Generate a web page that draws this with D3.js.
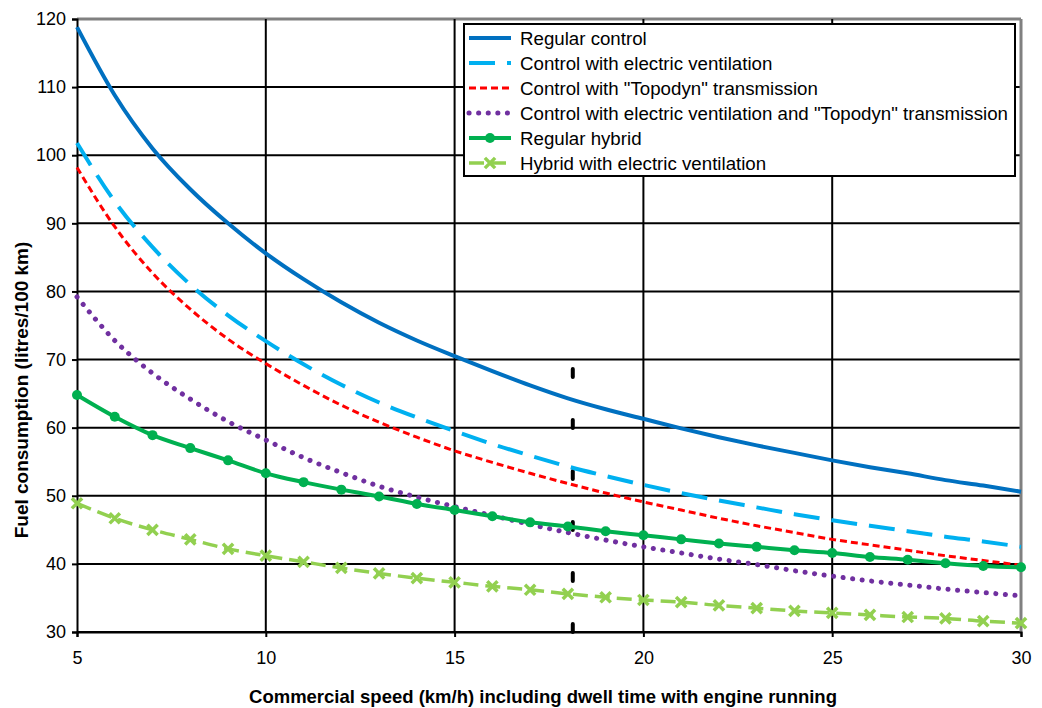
<!DOCTYPE html>
<html lang="en">
    <head>
        <meta charset="UTF-8" />
        <title>Fuel consumption vs commercial speed</title>
        <script src="https://cdn.jsdelivr.net/npm/d3@7/dist/d3.min.js"></script>
        <style>
            body {
                margin: 0;
                padding: 0;
                background: #fff;
            }
            text {
                font-family: 'Liberation Sans', Arial, sans-serif;
                fill: #000;
            }
            .tick text {
                font-size: 18px;
            }
            .title {
                font-size: 18.5px;
                font-weight: bold;
            }
            .ytitle {
                font-size: 19px;
            }
            .legend text {
                font-size: 18.7px;
            }
        </style>
    </head>
    <body>
        <svg width="1042" height="708"></svg>
        <script>
            // speeds (km/h)
            var speeds = d3.range(5, 31);

            // fuel consumption (litres/100 km), one value per speed
            var regularControl = [118.8, 108.8, 101, 95, 90, 85.6, 81.8, 78.4, 75.4, 72.8, 70.5, 68.3, 66.2, 64.3, 62.7,
                61.3, 59.9, 58.6, 57.4, 56.3, 55.2, 54.2, 53.3, 52.3, 51.5, 50.6];
            var controlEV = [101.8, 93.2, 86.5, 81, 76.5, 72.7, 69.3, 66.3, 63.7, 61.5, 59.5, 57.6, 55.9, 54.3, 52.9,
                51.6, 50.4, 49.3, 48.3, 47.3, 46.4, 45.6, 44.8, 44, 43.3, 42.5];
            var controlTopodyn = [98.2, 89.5, 82.7, 77.4, 73, 69.4, 66.2, 63.3, 60.8, 58.6, 56.6, 54.9, 53.3, 51.8, 50.4,
                49.1, 47.9, 46.7, 45.6, 44.6, 43.6, 42.8, 42, 41.2, 40.5, 39.8];
            var controlEVTopodyn = [79.2, 72.8, 68, 64.2, 60.9, 58.2, 55.6, 53.4, 51.4, 49.8, 48.4, 47.1, 45.8, 44.6, 43.5,
                42.5, 41.6, 40.7, 39.9, 39, 38.2, 37.5, 36.9, 36.3, 35.8, 35.3];
            var regularHybrid = [64.8, 61.6, 58.9, 57, 55.2, 53.3, 52, 50.9, 49.9, 48.8, 47.9, 47, 46.1, 45.5, 44.8,
                44.2, 43.6, 43, 42.5, 42, 41.6, 41, 40.6, 40.1, 39.7, 39.5];
            var hybridEV = [48.9, 46.7, 45, 43.6, 42.2, 41.2, 40.3, 39.4, 38.6, 37.9, 37.3, 36.7, 36.2, 35.6, 35.1,
                34.7, 34.4, 33.9, 33.5, 33.1, 32.8, 32.5, 32.2, 32, 31.6, 31.3];

            var seriesNames = [
                'Regular control',
                'Control with electric ventilation',
                'Control with "Topodyn" transmission',
                'Control with electric ventilation and "Topodyn" transmission',
                'Regular hybrid',
                'Hybrid with electric ventilation'
            ];
            var seriesValues = [regularControl, controlEV, controlTopodyn, controlEVTopodyn, regularHybrid, hybridEV];

            // dashed vertical marker
            var markerSpeed = 18.13;
            var markerRange = [30, 69.2];

            var xTicks = [5, 10, 15, 20, 25, 30];
            var yTicks = [30, 40, 50, 60, 70, 80, 90, 100, 110, 120];

            var styles = [
                { color: '#0070C0', width: 4, dash: null },
                { color: '#00B0F0', width: 4, dash: '26,12' },
                { color: '#FF0000', width: 3, dash: '7,4' },
                { color: '#7030A0', width: 5, dash: '0.1,9.5', cap: 'round' },
                { color: '#00B050', width: 4, dash: null, marker: 'circle' },
                { color: '#92D050', width: 3.5, dash: '15,7', marker: 'x' }
            ];

            var svg = d3.select('svg');
            var x = d3.scaleLinear().domain([5, 30]).range([77, 1021]);
            var y = d3.scaleLinear().domain([30, 120]).range([632, 19]);

            // grid
            var grid = svg.append('g');
            grid.selectAll('line.h')
                .data(yTicks)
                .enter()
                .append('line')
                .attr('x1', x(5))
                .attr('x2', x(30))
                .attr('y1', d => y(d))
                .attr('y2', d => y(d))
                .attr('stroke', d => (d === 120 ? '#808080' : '#000'))
                .attr('stroke-width', d => (d === 120 ? 3 : 2));
            grid.selectAll('line.v')
                .data(xTicks.slice(1))
                .enter()
                .append('line')
                .attr('x1', d => x(d))
                .attr('x2', d => x(d))
                .attr('y1', y(120))
                .attr('y2', y(30))
                .attr('stroke', d => (d === 30 ? '#808080' : '#000'))
                .attr('stroke-width', d => (d === 30 ? 3 : 2));

            // axes
            var yAxis = svg.append('g')
                .attr('transform', 'translate(' + x(5) + ',0)')
                .call(d3.axisLeft(y).tickValues(yTicks).tickSize(5).tickPadding(6));
            var xAxis = svg.append('g')
                .attr('transform', 'translate(0,' + y(30) + ')')
                .call(d3.axisBottom(x).tickValues(xTicks).tickSize(5).tickPadding(14));
            [xAxis, yAxis].forEach(function(a) {
                a.select('.domain').attr('stroke', '#000').attr('stroke-width', 2);
                a.selectAll('.tick line').attr('stroke', '#000').attr('stroke-width', 2);
                a.attr('font-family', null).attr('font-size', null);
            });

            // black dashed marker line
            svg.append('line')
                .attr('x1', x(markerSpeed))
                .attr('x2', x(markerSpeed))
                .attr('y1', y(markerRange[0]))
                .attr('y2', y(markerRange[1]))
                .attr('stroke', '#000')
                .attr('stroke-width', 4)
                .attr('stroke-linecap', 'round')
                .attr('stroke-dasharray', '8,43');

            var line = d3.line()
                .x((d, i) => x(speeds[i]))
                .y(d => y(d))
                .curve(d3.curveMonotoneX);

            var xSym = d3.symbol().type(d3.symbolX).size(70);

            seriesValues.forEach(function(vals, k) {
                var s = styles[k];
                svg.append('path')
                    .datum(vals)
                    .attr('d', line)
                    .attr('fill', 'none')
                    .attr('stroke', s.color)
                    .attr('stroke-width', s.width)
                    .attr('stroke-dasharray', s.dash)
                    .attr('stroke-linecap', s.cap || 'butt');
                if (s.marker === 'circle') {
                    svg.append('g').selectAll('circle')
                        .data(vals)
                        .enter()
                        .append('circle')
                        .attr('cx', (d, i) => x(speeds[i]))
                        .attr('cy', d => y(d))
                        .attr('r', 5)
                        .attr('fill', s.color);
                } else if (s.marker === 'x') {
                    svg.append('g').selectAll('path')
                        .data(vals)
                        .enter()
                        .append('path')
                        .attr('d', xSym)
                        .attr('transform', (d, i) => 'translate(' + x(speeds[i]) + ',' + y(d) + ')')
                        .attr('fill', 'none')
                        .attr('stroke', s.color)
                        .attr('stroke-width', 3.5);
                }
            });

            // legend
            var legend = svg.append('g').attr('class', 'legend');
            legend.append('rect')
                .attr('x', 464)
                .attr('y', 24)
                .attr('width', 551)
                .attr('height', 152)
                .attr('fill', '#fff')
                .attr('stroke', '#000')
                .attr('stroke-width', 2);
            var items = legend.selectAll('g.item')
                .data(seriesNames)
                .enter()
                .append('g')
                .attr('transform', (d, i) => 'translate(0,' + (38 + i * 25) + ')');
            items.append('line')
                .attr('x1', 469)
                .attr('x2', 511)
                .attr('stroke', (d, i) => styles[i].color)
                .attr('stroke-width', (d, i) => styles[i].width)
                .attr('stroke-dasharray', (d, i) => styles[i].dash)
                .attr('stroke-linecap', (d, i) => styles[i].cap || 'butt');
            items.filter((d, i) => styles[i].marker === 'circle')
                .append('circle')
                .attr('cx', 490)
                .attr('r', 5)
                .attr('fill', styles[4].color);
            items.filter((d, i) => styles[i].marker === 'x')
                .append('path')
                .attr('d', xSym)
                .attr('transform', 'translate(490,0)')
                .attr('fill', 'none')
                .attr('stroke', styles[5].color)
                .attr('stroke-width', 3.5);
            items.append('text')
                .attr('x', 520)
                .attr('dy', '0.35em')
                .text(d => d);

            // axis titles
            svg.append('text')
                .attr('class', 'title')
                .attr('x', 543)
                .attr('y', 703)
                .attr('text-anchor', 'middle')
                .text('Commercial speed (km/h) including dwell time with engine running');
            svg.append('text')
                .attr('class', 'title ytitle')
                .attr('transform', 'translate(28,390) rotate(-90)')
                .attr('text-anchor', 'middle')
                .text('Fuel consumption (litres/100 km)');
        </script>
    </body>
</html>
